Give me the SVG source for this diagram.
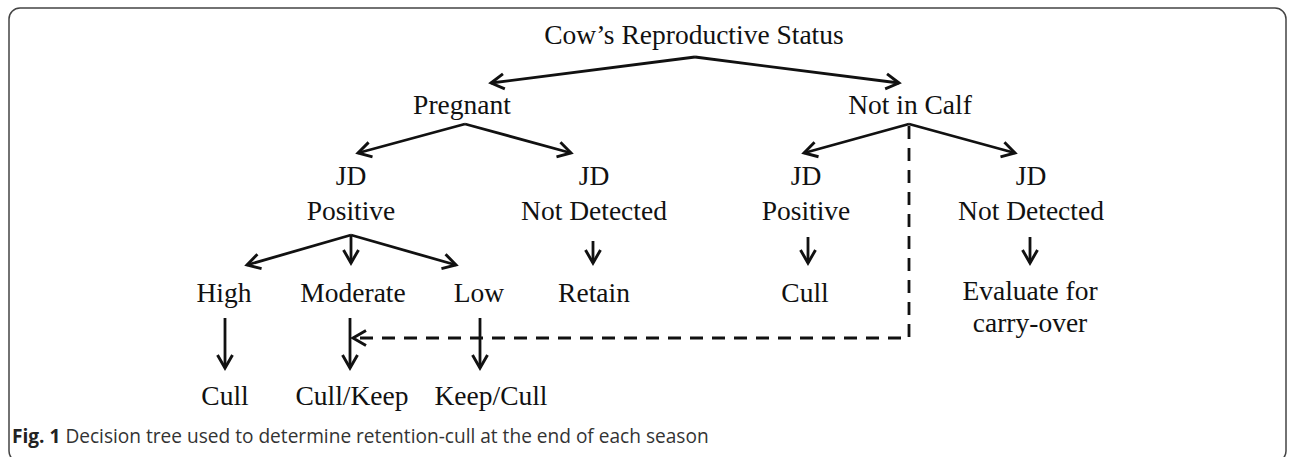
<svg xmlns="http://www.w3.org/2000/svg" width="1292" height="457" viewBox="0 0 1292 457">
<style>
.t{font-family:"Liberation Serif","Times New Roman",serif;font-size:27.5px;fill:#111;text-anchor:middle}
.ln{stroke:#111;stroke-width:2.8;fill:none}
.dash{stroke:#111;stroke-width:2.8;fill:none;stroke-dasharray:13 9}
.cap{font-family:"Open Sans","Liberation Sans",sans-serif;font-size:19.1px;fill:#333}
</style>
<defs>
<marker id="ah" markerUnits="userSpaceOnUse" viewBox="-16 -10 20 20" markerWidth="20" markerHeight="20" refX="0" refY="0" orient="auto">
<path d="M-13,-7.5 L0,0 L-13,7.5" fill="none" stroke="#111" stroke-width="2.9" stroke-linejoin="miter"/>
</marker>
</defs>
<rect x="9" y="8" width="1277" height="454" rx="11" ry="11" fill="#fff" stroke="#444" stroke-width="1.5"/>
<g id="n-root"><text class="t" x="694" y="44">Cow’s Reproductive Status</text></g>
<g id="n-pregnant"><text class="t" x="462" y="114">Pregnant</text></g>
<g id="n-notincalf"><text class="t" x="910" y="114">Not in Calf</text></g>
<g id="n-p-jdpos"><text class="t" x="351" y="185">JD</text><text class="t" x="351" y="220">Positive</text></g>
<g id="n-p-jdnd"><text class="t" x="594" y="185">JD</text><text class="t" x="594" y="220">Not Detected</text></g>
<g id="n-n-jdpos"><text class="t" x="806" y="185">JD</text><text class="t" x="806" y="220">Positive</text></g>
<g id="n-n-jdnd"><text class="t" x="1031" y="185">JD</text><text class="t" x="1031" y="220">Not Detected</text></g>
<g id="n-high"><text class="t" x="224" y="302">High</text></g>
<g id="n-moderate"><text class="t" x="353" y="302">Moderate</text></g>
<g id="n-low"><text class="t" x="479" y="302">Low</text></g>
<g id="n-retain"><text class="t" x="594" y="302">Retain</text></g>
<g id="n-cull-right"><text class="t" x="805" y="302">Cull</text></g>
<g id="n-evaluate"><text class="t" x="1030" y="300">Evaluate for</text><text class="t" x="1030" y="332">carry-over</text></g>
<g id="n-cull"><text class="t" x="225" y="405">Cull</text></g>
<g id="n-cullkeep"><text class="t" x="352" y="405">Cull/Keep</text></g>
<g id="n-keepcull"><text class="t" x="491" y="405">Keep/Cull</text></g>
<g id="connectors">
<path class="ln" d="M695,57 L491,83" marker-end="url(#ah)"/>
<path class="ln" d="M695,57 L899,83" marker-end="url(#ah)"/>
<path class="ln" d="M465,124 L358,153" marker-end="url(#ah)"/>
<path class="ln" d="M465,124 L571,153" marker-end="url(#ah)"/>
<path class="ln" d="M909,124 L804,153" marker-end="url(#ah)"/>
<path class="ln" d="M909,124 L1015,153" marker-end="url(#ah)"/>
<path class="ln" d="M351,235 L247,265" marker-end="url(#ah)"/>
<path class="ln" d="M351,235 L351,263" marker-end="url(#ah)"/>
<path class="ln" d="M351,235 L456,265" marker-end="url(#ah)"/>
<path class="ln" d="M593,241 L593,263" marker-end="url(#ah)"/>
<path class="ln" d="M808,237 L808,263" marker-end="url(#ah)"/>
<path class="ln" d="M1030,237 L1030,263" marker-end="url(#ah)"/>
<path class="ln" d="M225,318 L225,368" marker-end="url(#ah)"/>
<path class="ln" d="M350,318 L350,368" marker-end="url(#ah)"/>
<path class="ln" d="M480,318 L480,368" marker-end="url(#ah)"/>
<path class="dash" d="M909,126 L909,338 L353,338" marker-end="url(#ah)"/>
</g>
<text class="cap" x="12" y="443"><tspan font-weight="bold" fill="#222">Fig. 1</tspan> Decision tree used to determine retention-cull at the end of each season</text>
</svg>
